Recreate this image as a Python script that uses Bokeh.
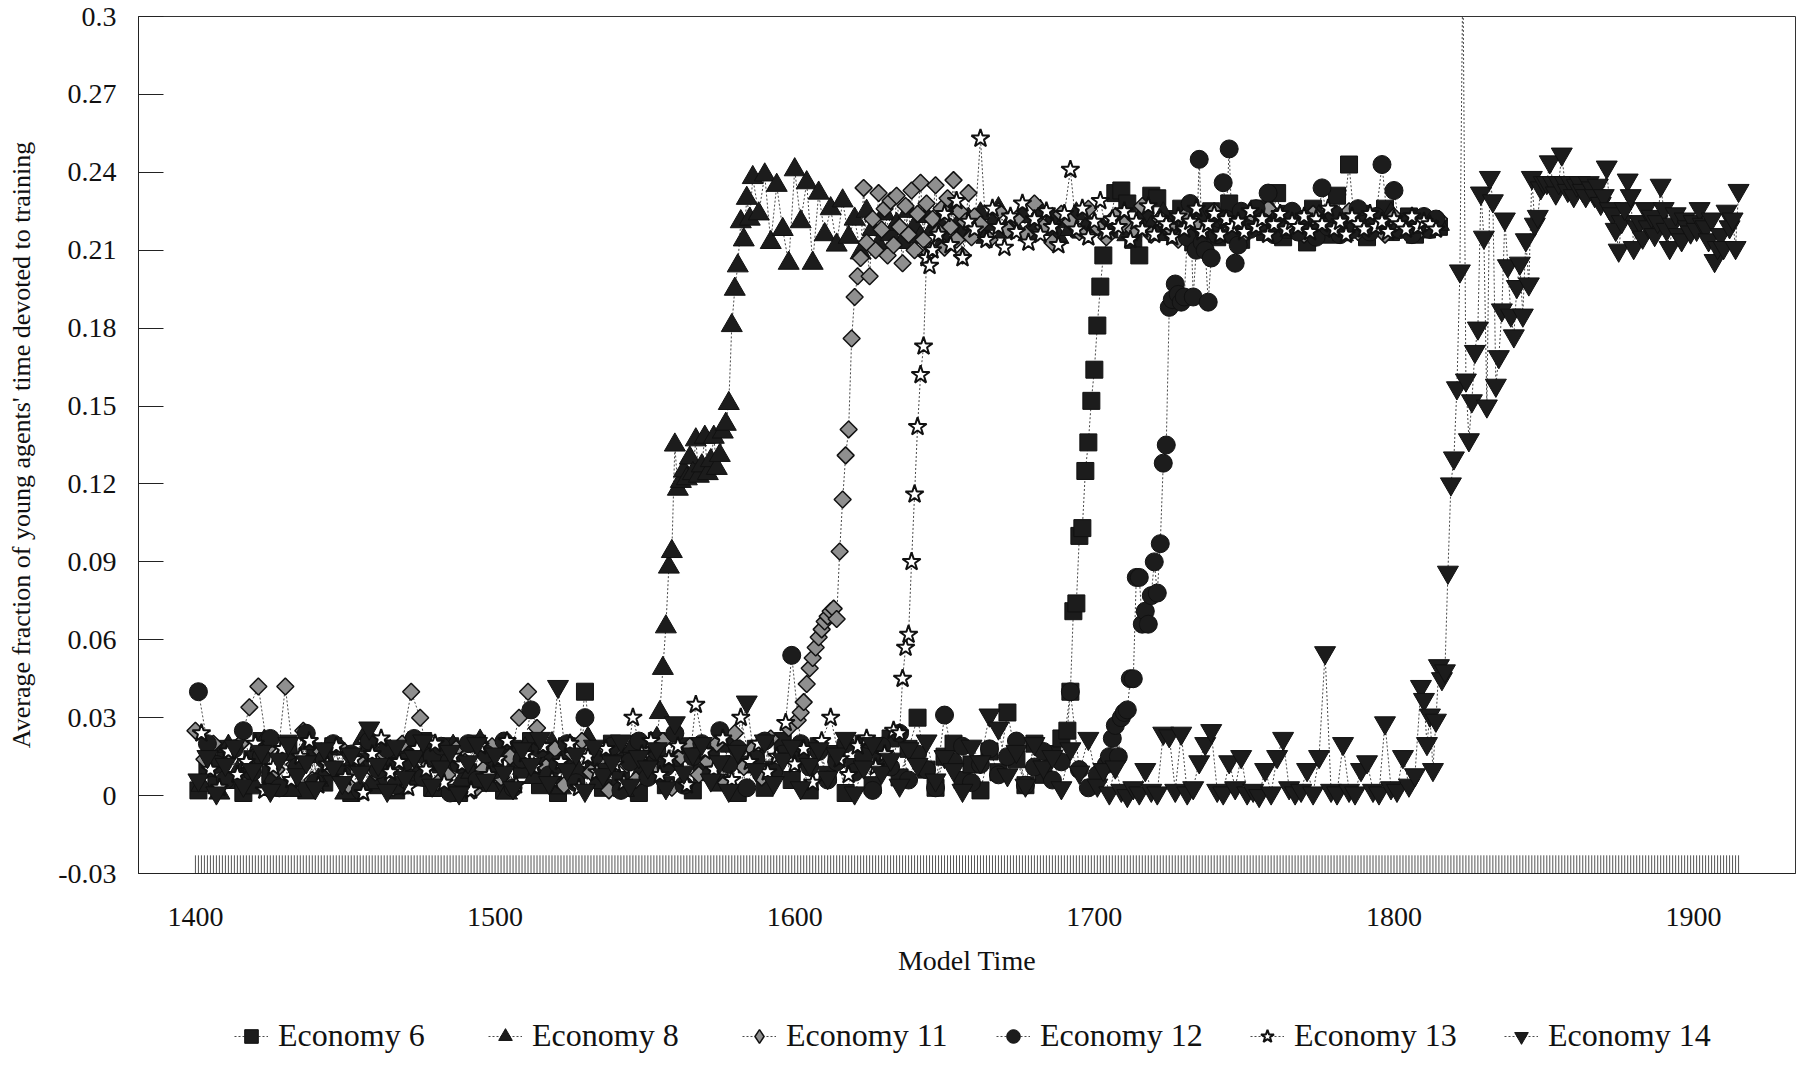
from bokeh.plotting import figure
from bokeh.layouts import column
from bokeh.models import (Legend, LegendItem, FixedTicker, Range1d,
                          ColumnDataSource, CustomJSTickFormatter)
from bokeh.embed import file_html
from bokeh.resources import INLINE
import math

FONT = "Liberation Serif"

# ---------------- data ----------------
x_ticks = [1400, 1500, 1600, 1700, 1800, 1900]
y_ticks = [-0.03, 0, 0.03, 0.06, 0.09, 0.12, 0.15, 0.18, 0.21, 0.24, 0.27, 0.3]
legend_labels = ["Economy 6", "Economy 8", "Economy 11", "Economy 12",
                 "Economy 13", "Economy 14"]

# Economy 6 (squares)
e6_low = [.002, .010, .004, .018, .006, .001, .014, .021, .008, .003,
          .020, .012, .002, .016, .005, .019, .009, .001, .013, .020,
          .004, .011, .002, .017, .007, .021, .003, .012, .019, .001,
          .009, .020, .005, .014, .002, .018, .010, .021, .004, .015,
          .001, .019, .008, .040, .012, .003, .020, .006, .016, .001,
          .011, .021, .004, .013, .019, .002, .009, .017, .005, .020,
          .001, .012, .018, .003, .010, .021, .006, .014, .002, .019,
          .008, .016, .001, .011, .020, .004, .013, .022, .007, .018,
          .030, .010, .003, .015, .020, .006, .012, .002, .017, .009,
          .032, .014, .004, .020, .008, .016, .022]
e6_rise = [.025, .040, .071, .074, .100, .103, .125, .136, .152, .164, .181, .196, .208]
e6_high = [.218, .232, .233, .228, .214, .208, .224, .231, .230, .217,
           .222, .216, .226, .219, .213, .221, .218, .225, .215, .222,
           .228, .216, .214, .223, .219, .226, .217, .221, .232, .215,
           .224, .218, .221, .213, .226, .219, .222, .216, .231, .221,
           .243, .218, .224, .215, .222, .219, .226, .217, .221, .218,
           .223, .216, .220, .218, .221, .219]
e6_x = list(range(1401, 1690, 3)) + list(range(1691, 1704)) + list(range(1705, 1816, 2))
e6_y = e6_low + e6_rise + e6_high

# Economy 8 (triangles)
e8_low = [.004, .015, .001, .019, .009, .012, .003, .021, .007, .016,
          .002, .013, .020, .006, .010, .018, .001, .014, .022, .005,
          .011, .017, .003, .020, .008, .015, .002, .012, .019, .006,
          .009, .021, .004, .016, .001, .013, .018, .007, .011, .020,
          .003, .015, .009, .022, .005, .012, .017, .002, .019, .010, .014]
e8_rise = [.022, .032, .049, .065, .088, .094, .135, .118, .121, .125,
           .122, .130, .124, .137, .123, .127, .138, .124, .129, .138,
           .126, .131, .140, .143, .151, .181, .195, .204, .221, .214,
           .230, .222, .238]
e8_high = [.224, .239, .213, .235, .218, .205, .241, .221, .236, .205,
           .232, .216, .226, .212, .229, .215, .222, .209, .225, .218,
           .212, .224, .216, .220, .213, .225, .219, .215, .223, .218,
           .221, .214, .226, .219, .216, .222, .218, .224, .215, .220,
           .226, .217, .221, .218, .223, .216, .220, .225, .218, .222,
           .215, .221, .218, .224, .217, .220, .219]
e8_late = [.218, .222, .216, .221, .219, .224, .217, .220, .223, .218,
           .221, .216, .222, .219, .225, .217, .220, .218, .223, .221,
           .216, .222, .219, .220, .224, .218, .221, .219, .220]
e8_x = (list(range(1402, 1554, 3)) + list(range(1554, 1587)) +
        list(range(1588, 1701, 2)) + list(range(1703, 1816, 4)))
e8_y = e8_low + e8_rise + e8_high + e8_late

# Economy 11 (diamonds)
e11_low = [.025, .014, .020, .008, .016, .020, .034, .042, .018, .010,
           .042, .012, .025, .006, .017, .011, .019, .004, .014, .021,
           .009, .016, .003, .020, .040, .030, .012, .005, .008, .018,
           .013, .002, .010, .019, .007, .015, .030, .040, .026, .011,
           .018, .004, .016, .021, .009, .014, .002, .019, .012, .006,
           .017, .010, .021, .003, .015, .019, .008, .013, .020, .005,
           .024, .011, .018, .007, .022, .014, .026]
e11_rise = [.029, .032, .036, .043, .049, .053, .057, .061, .064, .067,
            .069, .071, .072, .068, .094, .114, .131, .141, .176, .192,
            .200, .207, .234, .213, .200, .222, .210, .232, .218, .226,
            .208, .229]
e11_high = [.212, .231, .219, .205, .227, .216, .233, .210, .224, .236,
            .214, .228, .209, .222, .235, .217, .226, .211, .230, .219,
            .237, .214, .225, .208, .221, .232, .215, .223]
e11_late = [.220, .214, .225, .218, .222, .216, .228, .219, .213, .224,
            .221, .217, .226, .219, .215, .223, .220, .218, .227, .216,
            .222, .219, .214, .224, .220, .217, .225, .218, .221, .215,
            .223, .219, .226, .217, .220, .222, .216, .224, .219, .221,
            .218, .225, .217, .222, .220, .216, .223, .219, .221, .218,
            .220, .222]
e11_x = (list(range(1400, 1599, 3)) + list(range(1601, 1633)) +
         list(range(1633, 1661)) + list(range(1662, 1816, 3)))
e11_y = e11_low + e11_rise + e11_high + e11_late

# Economy 12 (circles)
e12_low = [.040, .020, .012, .006, .018, .025, .009, .015, .022, .003,
           .017, .011, .024, .005, .014, .020, .008, .016, .002, .021,
           .010, .018, .004, .013, .022, .007, .015, .019, .001, .012,
           .020, .006, .016, .010, .021, .003, .014, .033, .018, .008,
           .012, .020, .005, .030, .015, .009, .019, .002, .013, .021,
           .007, .017, .011, .024, .004, .015, .020, .008, .025, .012,
           .018, .003, .014, .021, .009, .016, .054, .020, .011, .017,
           .006, .013, .020, .009, .015, .002, .019, .011, .024, .006,
           .016, .010, .003, .031, .013, .019, .005, .012, .018, .008,
           .015, .021, .004, .011, .017, .006, .013, .040, .010, .003,
           .008, .012]
e12_rise = [.015, .022, .027, .015, .030, .032, .033, .045, .045, .084,
            .084, .066, .071, .066, .077, .090, .078, .097, .128, .135,
            .188, .191, .197, .193, .190, .192, .215, .228, .192, .210,
            .245, .213, .210, .190, .207, .218, .216, .222, .236, .222,
            .249, .216, .205, .212, .225, .219]
e12_high = [.218, .226, .221, .232, .216, .223, .219, .225, .217, .222,
            .220, .215, .234, .219, .224, .216, .221, .218, .226, .220,
            .217, .223, .243, .219, .233, .218, .221, .216, .220, .223,
            .218, .222]
e12_x = list(range(1401, 1705, 3)) + list(range(1705, 1751)) + list(range(1752, 1816, 2))
e12_y = e12_low + e12_rise + e12_high

# Economy 13 (stars)
e13_low = [.024, .010, .003, .017, .008, .013, .020, .002, .011, .018,
           .006, .015, .021, .004, .012, .019, .007, .014, .001, .016,
           .022, .009, .013, .003, .018, .010, .020, .005, .015, .012,
           .002, .019, .008, .014, .021, .004, .016, .011, .019, .006,
           .013, .020, .003, .015, .009, .018, .012, .005, .030, .016,
           .021, .008, .014, .019, .004, .035, .017, .010, .022, .006,
           .030, .013, .020, .009, .015, .028, .012, .018, .005, .021,
           .030, .014, .008, .019, .022, .011, .016, .025]
e13_rise = [.024, .045, .057, .062, .090, .116, .142, .162, .173, .207, .204, .210]
e13_high = [.216, .224, .212, .229, .207, .221, .218, .253, .214, .226,
            .219, .211, .223, .217, .228, .213, .222, .216, .225, .219,
            .212, .224, .241, .218, .226, .215, .221, .229, .217, .222,
            .219, .225, .214, .221, .218, .227, .216, .222, .220, .215,
            .223, .218, .221, .226, .217, .220, .224, .216, .222, .219,
            .221, .217, .225, .219, .222, .216, .220, .224, .218, .221,
            .219, .223, .217, .222, .220, .226, .218, .221, .216, .223,
            .220, .218, .224, .219, .221, .217, .222, .220, .218, .223,
            .219, .221, .220, .218]
e13_x = list(range(1402, 1635, 3)) + list(range(1635, 1647)) + list(range(1648, 1816, 2))
e13_y = e13_low + e13_rise + e13_high

# Economy 14 (inverted triangles)
e14_low = [.006, .015, .001, .012, .019, .004, .010, .017, .002, .014,
           .020, .008, .013, .003, .018, .011, .005, .016, .009, .026,
           .012, .002, .019, .007, .015, .021, .004, .011, .017, .001,
           .013, .020, .006, .016, .009, .003, .018, .012, .022, .005,
           .042, .010, .016, .002, .019, .008, .013, .021, .004, .015,
           .011, .018, .003, .028, .009, .016, .020, .006, .013, .002,
           .017, .036, .010, .021, .005, .014, .019, .003, .012, .018,
           .007, .016, .022, .001, .011, .020, .009, .014, .004, .018,
           .012, .021, .006, .015, .010, .002, .019, .013, .031, .026,
           .008, .017, .004, .020, .011, .015, .003, .018, .009, .022]
e14_mid = [.004, .010, .001, .011, .002, .000, .003, .001, .010, .002,
           .001, .024, .023, .002, .024, .001, .003, .013, .020, .025,
           .002, .001, .013, .003, .015, .001, .002, .000, .010, .001,
           .015, .022, .003, .001, .002, .010, .001, .015, .055, .002,
           .001, .020, .002, .001, .010, .013, .002, .001, .028, .003,
           .002, .015, .004, .008, .042]
e14_late = [.037, .020, .031, .010, .029, .050, .045, .048, .086, .120,
            .130, .157, .202, .320, .160, .137, .152, .171, .180, .232,
            .215, .150, .238, .229, .158, .169, .187, .222, .204, .185,
            .177, .196, .205, .185, .214, .197, .238, .220, .223, .234,
            .236, .236, .244, .236, .232, .236, .247, .236, .233, .236,
            .231, .235, .236, .233, .231, .236, .234, .231, .235, .228,
            .231, .242, .226, .224, .218, .210, .221, .226, .237, .231,
            .211, .219, .221, .215, .226, .219, .223, .216, .221, .235,
            .226, .218, .211, .220, .224, .216, .214, .222, .219, .217,
            .221, .218, .226, .220, .219, .214, .222, .206, .211, .216,
            .211, .225, .219, .222, .211, .233]
e14_x = list(range(1401, 1700, 3)) + list(range(1701, 1810, 2)) + list(range(1810, 1916))
e14_y = e14_low + e14_mid + e14_late

# hatched band along the bottom of the plot
rug_x = list(range(1400, 1916))
rug_top = -0.023
rug_bottom = -0.03

# ---------------- main figure ----------------
p = figure(width=1796, height=1015, output_backend="svg", toolbar_location=None,
           x_range=Range1d(1381, 1934), y_range=Range1d(-0.03, 0.3),
           min_border_left=138, min_border_right=1, min_border_top=16,
           min_border_bottom=142)
p.background_fill_color = "white"
p.border_fill_color = "white"
p.xgrid.visible = False
p.ygrid.visible = False
p.outline_line_color = "#333333"
p.outline_line_width = 1

p.xaxis.ticker = FixedTicker(ticks=x_ticks)
p.yaxis.ticker = FixedTicker(ticks=y_ticks)
p.yaxis.formatter = CustomJSTickFormatter(code="return String(Math.round(tick*100)/100);")
for ax in (p.xaxis, p.yaxis):
    ax.major_label_text_font = FONT
    ax.major_label_text_font_size = "28px"
    ax.major_label_text_color = "#111111"
    ax.axis_label_text_font = FONT
    ax.axis_label_text_font_style = "normal"
    ax.axis_label_text_color = "#111111"
    ax.minor_tick_line_color = None
    ax.axis_line_color = "#222222"

p.xaxis.axis_label = "Model Time"
p.xaxis.axis_label_text_font_size = "28px"
p.xaxis.major_tick_line_color = None
p.xaxis.major_label_standoff = 28
p.xaxis.axis_label_standoff = 16

p.yaxis.axis_label = "Average fraction of young agents' time devoted to training"
p.yaxis.axis_label_text_font_size = "26px"
p.yaxis.major_tick_in = 25
p.yaxis.major_tick_out = 0
p.yaxis.major_tick_line_color = "#222222"
p.yaxis.major_label_standoff = 22
p.yaxis.axis_label_standoff = 19

p.segment(x0=rug_x, x1=rug_x, y0=[rug_bottom] * len(rug_x), y1=[rug_top] * len(rug_x),
          line_color="#555555", line_width=1)

series = [
    (e6_x, e6_y, "square", 17, "#1c1c1c", "#111111", 1, 0),
    (e8_x, e8_y, "triangle", 21, "#1c1c1c", "#111111", 1, 0),
    (e11_x, e11_y, "square", 12, "#8f8f8f", "#111111", 1.5, math.pi / 4),
    (e12_x, e12_y, "circle", 18, "#1c1c1c", "#111111", 1, 0),
    (e13_x, e13_y, "star", 19, "#ffffff", "#111111", 2, 0),
    (e14_x, e14_y, "inverted_triangle", 21, "#1c1c1c", "#111111", 1, 0),
]
legend_markers = ["square", "triangle", "diamond", "circle", "star", "inverted_triangle"]
legend_sizes = [17, 21, 19, 18, 19, 21]

sources = []
for xs, ys, *_ in series:
    n = min(len(xs), len(ys))
    sources.append(ColumnDataSource(dict(x=xs[:n], y=ys[:n])))

for src in sources:
    p.line("x", "y", source=src, line_color="#4a4a4a", line_width=1, line_dash="2 2")
for (xs, ys, marker, size, fill, line, lw, ang), src in zip(series, sources):
    p.scatter("x", "y", source=src, marker=marker, size=size, fill_color=fill,
              line_color=line, line_width=lw, angle=ang)

# ---------------- legend strip below the chart ----------------
# Same series drawn on a strip whose ranges exclude the data, so only the legend shows.
lg = figure(width=1796, height=40, output_backend="svg", toolbar_location=None,
            x_range=Range1d(0, 1), y_range=Range1d(0, 1), min_border=0)
lg.axis.visible = False
lg.xgrid.visible = False
lg.ygrid.visible = False
lg.outline_line_color = None
lg.background_fill_color = "white"
lg.border_fill_color = "white"

items = []
for (xs, ys, marker, size, fill, line, lw, ang), src, lab, lm, ls in zip(
        series, sources, legend_labels, legend_markers, legend_sizes):
    ln = lg.line("x", "y", source=src, line_color="#4a4a4a", line_width=1, line_dash="2 2")
    sc = lg.scatter("x", "y", source=src, marker=lm, size=ls, fill_color=fill,
                    line_color=line, line_width=lw)
    items.append(LegendItem(label=lab, renderers=[ln, sc]))

legend = Legend(items=items, orientation="horizontal", location=(96, 1),
                label_text_font=FONT, label_text_font_size="32px",
                label_text_color="#111111",
                glyph_width=34, glyph_height=34, label_standoff=10,
                label_width=185, spacing=25, padding=0, margin=0,
                border_line_color=None, background_fill_alpha=0)
lg.add_layout(legend)

layout = column(p, lg, spacing=0)
open("out.html", "w").write(file_html(layout, INLINE))
